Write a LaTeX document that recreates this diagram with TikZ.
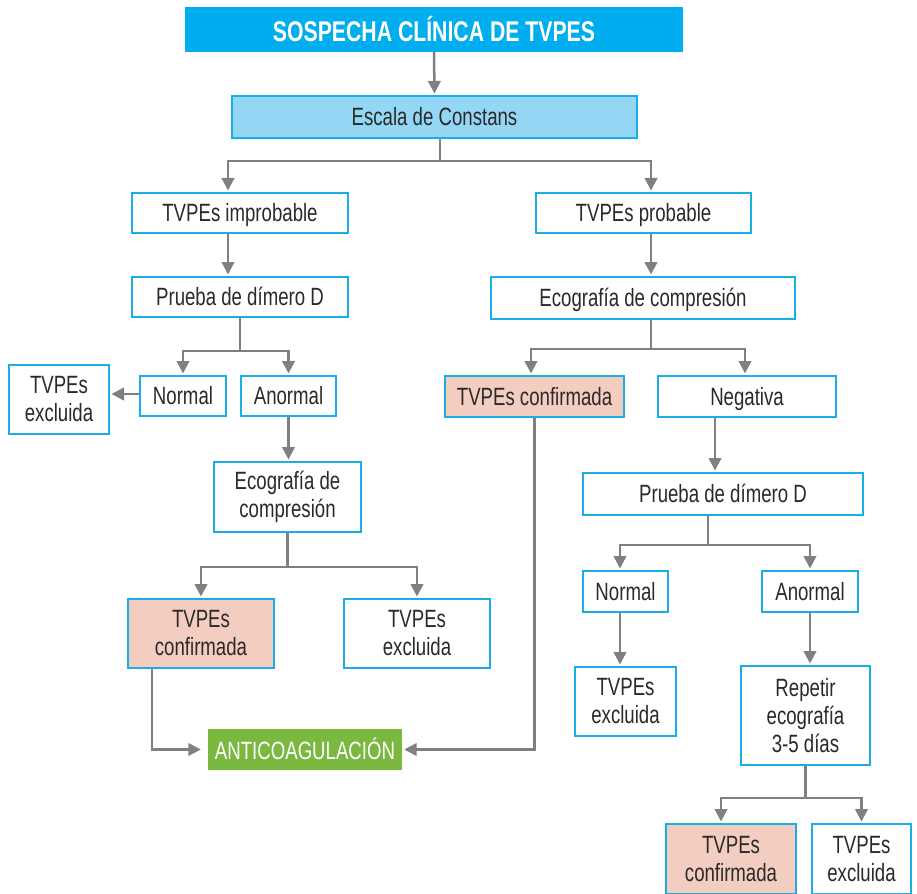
\documentclass[tikz,border=0pt]{standalone}
\usepackage{fontspec}
\setmainfont{Liberation Sans}[FakeStretch=0.745]
\usetikzlibrary{arrows.meta}
\definecolor{frame}{HTML}{1AAEE6}
\definecolor{titlebg}{HTML}{00AEEF}
\definecolor{scalebg}{HTML}{93D7F5}
\definecolor{confbg}{HTML}{F3CDBF}
\definecolor{anticoag}{HTML}{7AB840}
\definecolor{linkgray}{HTML}{7F7F84}
\definecolor{ink}{HTML}{2A2A2A}

\begin{document}
\begin{tikzpicture}[x=1pt,y=-1pt,
  box/.style={draw=frame, line width=2pt, fill=white, text=ink, align=center,
    inner sep=0pt, font=\fontsize{25}{28}\selectfont},
  one/.style={text depth=1pt},
  conf/.style={box, fill=confbg},
  arr/.style={draw=linkgray, line width=2.5pt, shorten >=1.5pt,
    -{Triangle[width=12.5pt,length=12.5pt]}},
  trunk/.style={draw=linkgray, line width=2.5pt},
  sz/.style 2 args={minimum width=#1, minimum height=#2}]

\useasboundingbox (0,0) rectangle (917,893);

% title and score
\node[fill=titlebg, text=white, inner sep=0pt, sz={498pt}{45pt}, one,
  font=\fontsize{28.5}{30}\selectfont\bfseries] (title) at (434,29.5) {SOSPECHA CLÍNICA DE TVPES};
\node[box, one, fill=scalebg, sz={405pt}{42pt}] (esc) at (434.5,117) {Escala de Constans};

% left branch
\node[box, one, sz={216pt}{40pt}] (imp) at (240,213) {TVPEs improbable};
\node[box, one, sz={216pt}{40pt}] (pdl) at (240,297) {Prueba de dímero D};
\node[box, one, sz={86pt}{40pt}] (nl) at (183,396) {Normal};
\node[box, one, sz={95pt}{40pt}] (al) at (288.5,396) {Anormal};
\node[box, sz={100pt}{69pt}] (exl1) at (59,399.5) {TVPEs\\excluida};
\node[box, sz={147pt}{70pt}] (ecl) at (287.5,497) {Ecografía de\\compresión};
\node[conf, sz={146pt}{69pt}] (cfl) at (201,633.5) {TVPEs\\confirmada};
\node[box, sz={146pt}{69pt}] (exl2) at (417,633.5) {TVPEs\\excluida};
\node[fill=anticoag, text=white, inner sep=0pt, sz={194pt}{41pt}, one,
  font=\fontsize{25}{28}\selectfont] (anti) at (305,749.5) {ANTICOAGULACIÓN};

% right branch
\node[box, one, sz={215pt}{40pt}] (prob) at (643.5,213) {TVPEs probable};
\node[box, one, sz={304pt}{42pt}] (ecr) at (643,298) {Ecografía de compresión};
\node[conf, one, sz={179pt}{41pt}] (cfr) at (534.5,396.5) {TVPEs confirmada};
\node[box, one, sz={178pt}{41pt}] (neg) at (747,396.5) {Negativa};
\node[box, one, sz={280pt}{42pt}] (pdr) at (723,494) {Prueba de dímero D};
\node[box, one, sz={85pt}{41pt}] (nr) at (625.5,591.5) {Normal};
\node[box, one, sz={96pt}{41pt}] (ar) at (810,591.5) {Anormal};
\node[box, sz={101pt}{69pt}] (exr) at (625.5,701.5) {TVPEs\\excluida};
\node[box, sz={129pt}{99pt}] (rep) at (805.5,715.5) {Repetir\\ecografía\\3-5 días};
\node[conf, sz={130pt}{70pt}] (cfb) at (731,859) {TVPEs\\confirmada};
\node[box, sz={99pt}{70pt}] (exb) at (861.5,859) {TVPEs\\excluida};

% connectors
\draw[arr] (title.south) -- (esc.north);
\draw[trunk] ([xshift=5.5pt]esc.south) -- ++(0,22) coordinate (f1);
\draw[arr] (f1) -| ([xshift=-12pt]imp.north);
\draw[arr] (f1) -| ([xshift=7.5pt]prob.north);

\draw[arr] ([xshift=-12pt]imp.south) -- ([xshift=-12pt]pdl.north);
\draw[trunk] (pdl.south) -- ++(0,33) coordinate (f2);
\draw[arr] (f2) -| (nl.north);
\draw[arr] (f2) -| (al.north);
\draw[arr] ([yshift=2pt]nl.west) -- ([yshift=2pt]nl.west -| exl1.east);
\draw[arr] (al.south) -- (al.south |- ecl.north);
\draw[trunk] (ecl.south) -- ++(0,34) coordinate (f3);
\draw[arr] (f3) -| (cfl.north);
\draw[arr] (f3) -| (exl2.north);
\draw[arr, shorten >=7pt] ([xshift=-49pt]cfl.south) |- (anti.west);

\draw[arr] ([xshift=7.5pt]prob.south) -- ([xshift=8pt]ecr.north);
\draw[trunk] ([xshift=8pt]ecr.south) -- ++(0,29) coordinate (f4);
\draw[arr] (f4) -| ([xshift=-3.5pt]cfr.north);
\draw[arr] (f4) -| ([xshift=-2pt]neg.north);
\draw[arr, shorten >=2pt] (cfr.south) |- (anti.east);
\draw[arr] ([xshift=-32pt]neg.south) -- ([xshift=-32pt]neg.south |- pdr.north);
\draw[trunk] ([xshift=-15pt]pdr.south) -- ++(0,29) coordinate (f5);
\draw[arr] (f5) -| ([xshift=-5.5pt]nr.north);
\draw[arr] (f5) -| (ar.north);
\draw[arr] ([xshift=-5.5pt]nr.south) -- ([xshift=-5.5pt]nr.south |- exr.north);
\draw[arr] (ar.south) -- (ar.south |- rep.north);
\draw[trunk] (rep.south) -- ++(0,32) coordinate (f6);
\draw[arr] (f6) -| ([xshift=-10pt]cfb.north);
\draw[arr] (f6) -| (exb.north);
\end{tikzpicture}
\end{document}
